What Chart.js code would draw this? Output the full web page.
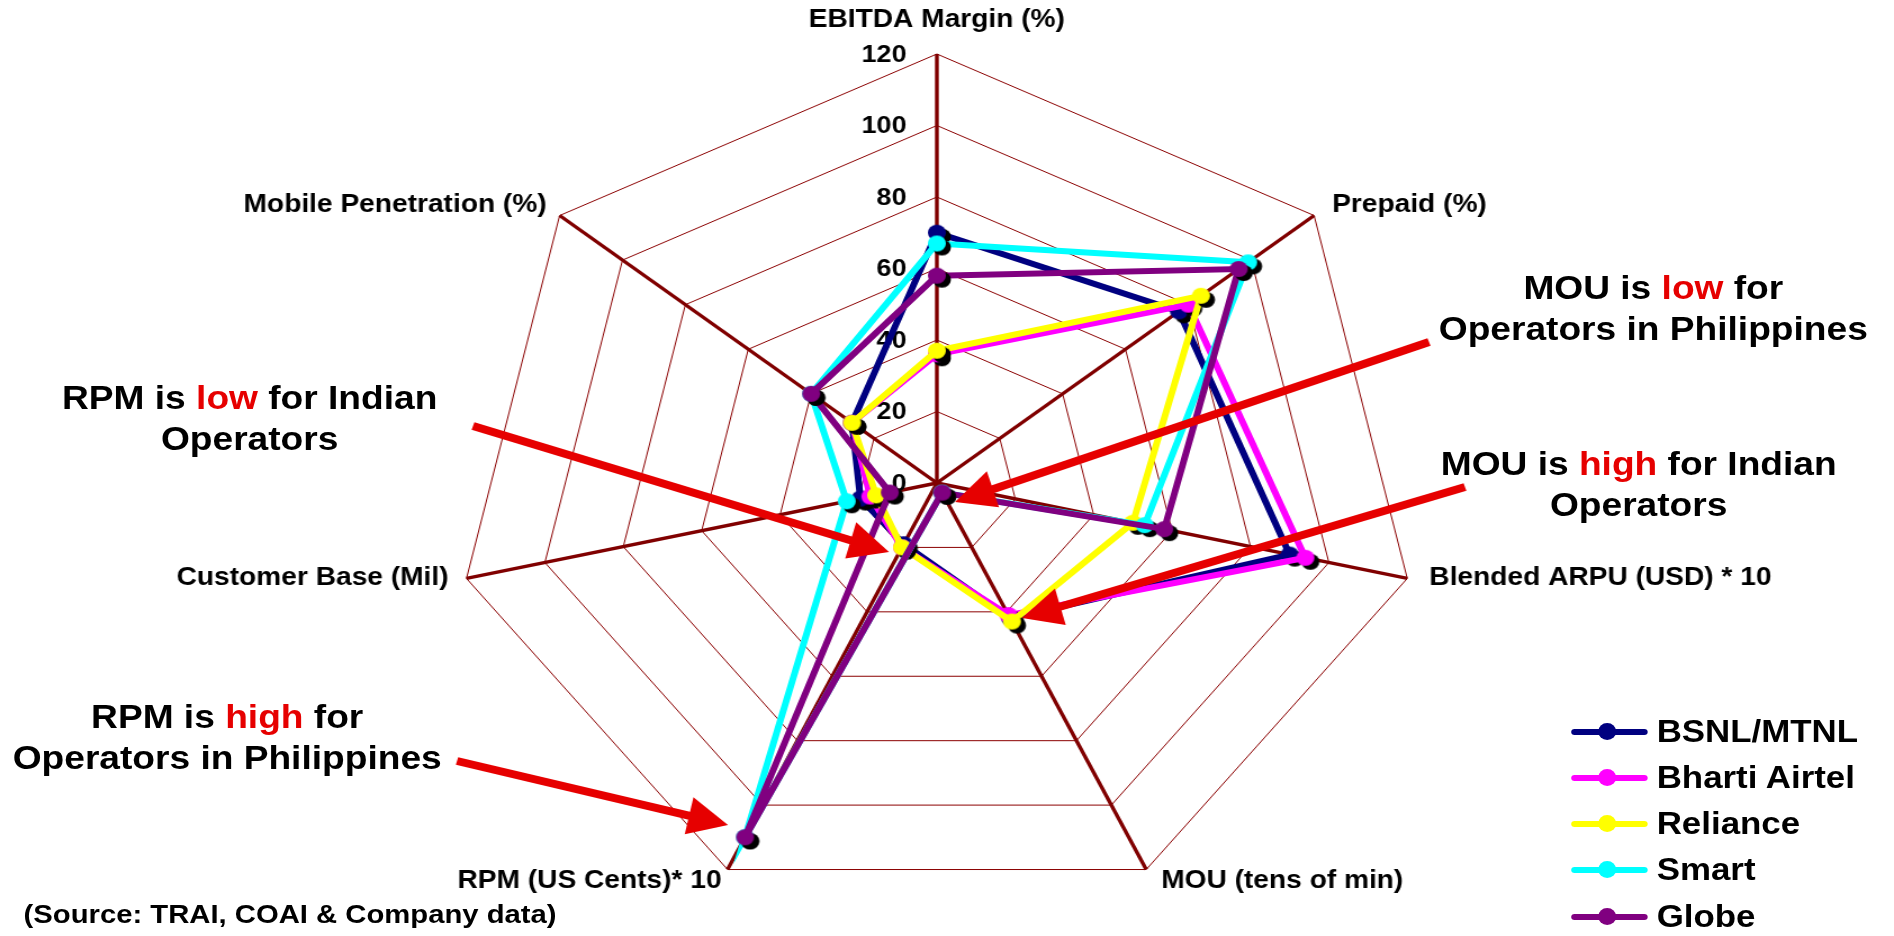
<!DOCTYPE html>
<html>
<head>
<meta charset="utf-8">
<title>Operator metrics radar</title>
<script src="https://cdn.jsdelivr.net/npm/chart.js@4.4.1/dist/chart.umd.min.js"></script>
<style>
  html, body { margin:0; padding:0; background:#fff; overflow:hidden; width:1894px; height:936px; }
  /* the whole slide is drawn 1684 wide and widened to 1894 */
  #stage { position:absolute; left:0; top:0; width:1684px; height:936px;
           transform:scaleX(1.1247); transform-origin:0 0;
           font-family:"Liberation Sans", Arial, Helvetica, sans-serif; font-weight:bold; color:#000; }
  #radar { position:absolute; left:0; top:0; }
  .note { position:absolute; text-align:center; font-size:33px; line-height:41px; white-space:nowrap;
          transform:translate(-50%,-50%); }
  .note span { color:#e60000; }
  .src { position:absolute; left:21px; top:914px; font-size:26px; line-height:30px; white-space:nowrap;
         transform:translateY(-50%); }
  .leg { position:absolute; left:1397px; height:30px; width:300px; }
  .leg .ln { position:absolute; left:0; top:12px; width:68px; height:6px; border-radius:3px; }
  .leg .dt { position:absolute; left:24px; top:6px; width:16px; height:17px; border-radius:50%; }
  .leg .tx { position:absolute; left:76px; top:-3px; font-size:31px; line-height:36px; white-space:nowrap; }
</style>
</head>
<body>
<div id="stage">
  <canvas id="radar" width="1684" height="936"></canvas>
  <div class="note" style="left:1470px;top:308px">MOU is <span>low</span> for<br>Operators in Philippines</div>
  <div class="note" style="left:1457px;top:484px">MOU is <span>high</span> for Indian<br>Operators</div>
  <div class="note" style="left:222px;top:418px">RPM is <span>low</span> for Indian<br>Operators</div>
  <div class="note" style="left:202px;top:737px">RPM is <span>high</span> for<br>Operators in Philippines</div>
  <div class="src">(Source: TRAI, COAI &amp; Company data)</div>
  <div id="legend"></div>
</div>
<script>
// Radar spokes, clockwise from the top
const categories = [
  'EBITDA Margin (%)',
  'Prepaid (%)',
  'Blended ARPU (USD) * 10',
  'MOU (tens of min)',
  'RPM (US Cents)* 10',
  'Customer Base (Mil)',
  'Mobile Penetration (%)'
];

const seriesNames = ['BSNL/MTNL', 'Bharti Airtel', 'Reliance', 'Smart', 'Globe'];

// Indian operators
const bsnlMtnl     = [70, 77, 90, 42, 19, 19.5, 27];
const bhartiAirtel = [36, 80, 94, 41, 20, 17, 27];
const reliance     = [37, 84, 50, 43, 20, 15.5, 27];
// Philippine operators
const smart        = [67, 99, 53, 3, 110, 23, 40];
const globe        = [58, 96, 58, 3, 110, 12, 40];

// radial axis ticks
const tickValues = [0, 20, 40, 60, 80, 100, 120];

const seriesValues = [bsnlMtnl, bhartiAirtel, reliance, smart, globe];
const seriesColors = ['#000080', '#ff00ff', '#ffff00', '#00ffff', '#800080'];

// spoke-title placement relative to the end of each spoke
const labelNudge = [[0, -34], [16, -10], [19.6, 0], [13.3, 12], [-5.3, 12], [-16, 0], [-11.6, -10]];

const FONT = '"Liberation Sans", Arial, Helvetica, sans-serif';
const STRETCH = 1.1247;

// call-out arrows (page pixels): tail -> head
const calloutArrows = [
  [[1429, 342], [955, 502]],
  [[1465, 487], [1022, 618]],
  [[473, 426], [889, 552]],
  [[457, 761], [728, 825]]
];

// round marker with a dark drop shadow
function markerImage(color) {
  const c = document.createElement('canvas');
  c.width = 32; c.height = 32;
  const g = c.getContext('2d');
  g.fillStyle = '#000';
  g.beginPath(); g.arc(20.5, 20, 8, 0, Math.PI * 2); g.fill();
  g.fillStyle = color;
  g.beginPath(); g.arc(16, 16, 8, 0, Math.PI * 2); g.fill();
  return c;
}

const axisText = {
  id: 'axisText',
  beforeDatasetsDraw(chart) {
    const s = chart.scales.r, ctx = chart.ctx;
    ctx.save();
    ctx.fillStyle = '#000';
    ctx.textBaseline = 'middle';
    ctx.font = 'bold 24px ' + FONT;
    ctx.textAlign = 'right';
    s.ticks.forEach(t => {
      ctx.fillText(String(t.value), s.xCenter - 27, s.yCenter - s.getDistanceFromCenterForValue(t.value) + 1);
    });
    ctx.font = 'bold 25px ' + FONT;
    categories.forEach((lab, i) => {
      const p = s.getPointPosition(i, s.drawingArea);
      const [dx, dy] = labelNudge[i];
      ctx.textAlign = dx === 0 ? 'center' : (dx > 0 ? 'left' : 'right');
      ctx.fillText(lab, p.x + dx, p.y + dy);
    });
    ctx.restore();
  }
};

const arrows = {
  id: 'arrows',
  afterDraw(chart) {
    const ctx = chart.ctx;
    ctx.save();
    ctx.fillStyle = '#e60000';
    ctx.strokeStyle = '#e60000';
    ctx.lineWidth = 8;
    calloutArrows.forEach(([from, to]) => {
      const vx = to[0] - from[0], vy = to[1] - from[1];
      const len = Math.hypot(vx, vy), ux = vx / len, uy = vy / len;
      const headLen = 40, halfW = 19;
      const bx = to[0] - ux * headLen, by = to[1] - uy * headLen;
      ctx.beginPath();
      ctx.moveTo(from[0] / STRETCH, from[1]);
      ctx.lineTo((bx + ux * 4) / STRETCH, by + uy * 4);
      ctx.stroke();
      ctx.beginPath();
      ctx.moveTo(to[0] / STRETCH, to[1]);
      ctx.lineTo((bx - uy * halfW) / STRETCH, by + ux * halfW);
      ctx.lineTo((bx + uy * halfW) / STRETCH, by - ux * halfW);
      ctx.closePath();
      ctx.fill();
    });
    ctx.restore();
  }
};

const datasets = seriesNames.map((name, i) => ({
  label: name,
  data: seriesValues[i],
  borderColor: seriesColors[i],
  backgroundColor: seriesColors[i],
  borderWidth: 6,
  fill: false,
  pointStyle: markerImage(seriesColors[i]),
  pointRadius: 8,
  pointHoverRadius: 8,
  order: seriesNames.length - 1 - i
}));

new Chart(document.getElementById('radar'), {
  type: 'radar',
  data: { labels: categories, datasets },
  options: {
    responsive: false,
    animation: false,
    events: [],
    layout: { padding: { left: 404, right: 422, top: 54, bottom: 24 } },
    plugins: { legend: { display: false }, tooltip: { enabled: false } },
    elements: { line: { tension: 0 } },
    scales: {
      r: {
        min: tickValues[0],
        max: tickValues[tickValues.length - 1],
        ticks: { display: false, stepSize: tickValues[1] - tickValues[0] },
        grid: { color: '#8b0000', lineWidth: 1 },
        angleLines: { color: '#800000', lineWidth: 3.4 },
        pointLabels: { display: false }
      }
    }
  },
  plugins: [axisText, arrows]
});

// legend rows: line with a dot, then the series name
const legend = document.getElementById('legend');
const legendRowY = 731.7, legendGap = 46.2;
seriesNames.forEach((name, i) => {
  const row = document.createElement('div');
  row.className = 'leg';
  row.style.top = (legendRowY + i * legendGap - 15) + 'px';
  row.innerHTML = '<div class="ln" style="background:' + seriesColors[i] + '"></div>' +
                  '<div class="dt" style="background:' + seriesColors[i] + '"></div>' +
                  '<div class="tx">' + name + '</div>';
  legend.appendChild(row);
});
</script>
</body>
</html>
